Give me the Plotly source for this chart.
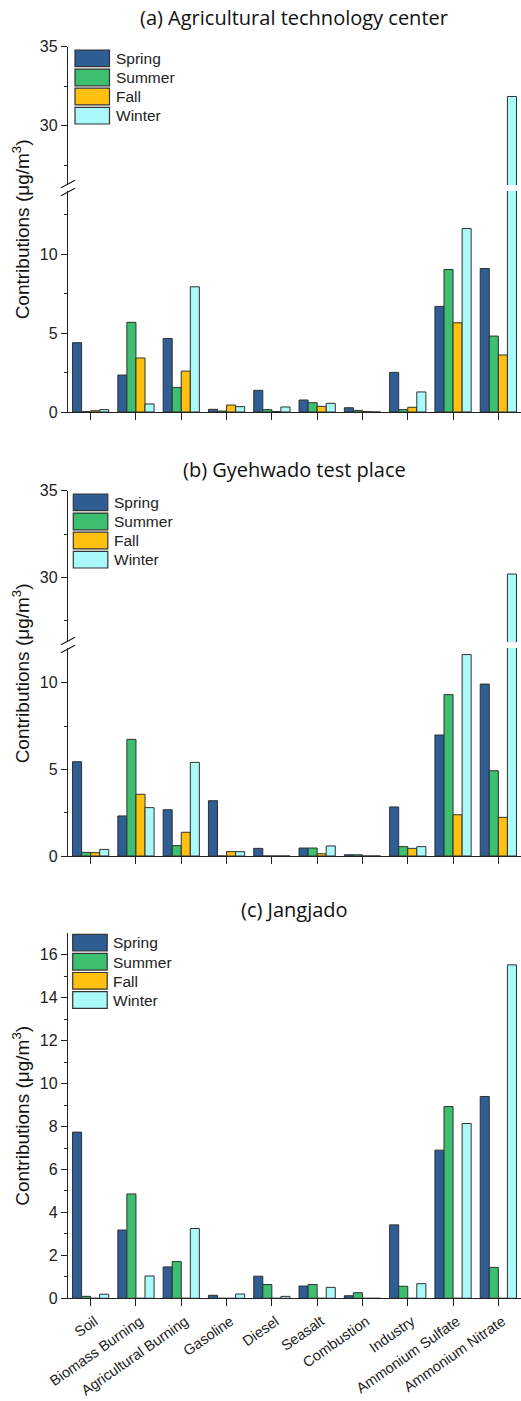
import plotly.graph_objects as go

# ---------------- data ----------------
categories = ["Soil", "Biomass Burning", "Agricultural Burning", "Gasoline", "Diesel",
              "Seasalt", "Combustion", "Industry", "Ammonium Sulfate", "Ammonium Nitrate"]
seasons = ["Spring", "Summer", "Fall", "Winter"]

# (a) Agricultural technology center
a_spring = [4.39, 2.34, 4.66, 0.17, 1.37, 0.76, 0.27, 2.51, 6.69, 9.09]
a_summer = [0.02, 5.68, 1.56, 0.06, 0.15, 0.59, 0.10, 0.15, 9.03, 4.81]
a_fall   = [0.08, 3.42, 2.59, 0.44, 0.03, 0.36, 0.02, 0.30, 5.65, 3.61]
a_winter = [0.15, 0.51, 7.93, 0.34, 0.32, 0.55, 0.00, 1.27, 11.62, 31.85]

# (b) Gyehwado test place
b_spring = [5.44, 2.31, 2.67, 3.19, 0.44, 0.46, 0.07, 2.83, 6.98, 9.92]
b_summer = [0.21, 6.73, 0.60, 0.00, 0.00, 0.46, 0.07, 0.54, 9.31, 4.92]
b_fall   = [0.19, 3.56, 1.37, 0.25, 0.00, 0.13, 0.00, 0.44, 2.38, 2.23]
b_winter = [0.38, 2.79, 5.40, 0.25, 0.00, 0.58, 0.00, 0.54, 11.62, 30.19]

# (c) Jangjado
c_spring = [7.74, 3.18, 1.46, 0.14, 1.03, 0.57, 0.12, 3.42, 6.90, 9.40]
c_summer = [0.09, 4.86, 1.71, 0.00, 0.64, 0.64, 0.26, 0.56, 8.93, 1.44]
c_fall   = [0.00, 0.00, 0.00, 0.00, 0.00, 0.00, 0.00, 0.00, 0.00, 0.00]
c_winter = [0.19, 1.04, 3.25, 0.20, 0.09, 0.51, 0.00, 0.68, 8.14, 15.53]

panel_titles = ["(a) Agricultural technology center", "(b) Gyehwado test place", "(c) Jangjado"]
y_title = "Contributions (μg/m<sup>3</sup>)"

# ---------------- style ----------------
W, H = 521, 1401
colors = {"Spring": "#2e5e93", "Summer": "#3cbf6e", "Fall": "#ffc010", "Winter": "#aafafa"}
edge = "#303030"
axis_col = "#222222"
tick_font = dict(family="Liberation Sans, Arial, sans-serif", size=16, color="#222222")
xlab_font = dict(family="Liberation Sans, Arial, sans-serif", size=14.5, color="#222222")
title_font = dict(family="Open Sans, Noto Sans, sans-serif", size=20, color="#111111")

def px_x(p):
    return p / W

def px_y(p):
    return 1 - p / H

X0 = 68.0  # left of plotting area (px)

# vertical pixel geometry of each (sub)plot: (bottom_px, top_px)
geo = {
    "a_low": (412.0, 191.0), "a_up": (185.0, 46.7),
    "b_low": (856.0, 648.0), "b_up": (642.0, 490.7),
    "c": (1298.3, 933.3),
}

fig = go.Figure()

panel_data = [
    (a_spring, a_summer, a_fall, a_winter),
    (b_spring, b_summer, b_fall, b_winter),
    (c_spring, c_summer, c_fall, c_winter),
]
panel_axes = [("x", ["y", "y2"]), ("x2", ["y3", "y4"]), ("x3", ["y5"])]

for (xa, yas), series in zip(panel_axes, panel_data):
    for ya in yas:
        for name, vals in zip(seasons, series):
            fig.add_trace(go.Bar(
                x=categories, y=vals, name=name, xaxis=xa, yaxis=ya,
                marker=dict(color=colors[name], line=dict(color=edge, width=1)),
                showlegend=False, hoverinfo="x+y+name",
            ))

def yax(dom_key, rng, tickvals, minorvals, anchor):
    b, t = geo[dom_key]
    return dict(
        domain=[px_y(b), px_y(t)], range=rng, anchor=anchor, automargin=False,
        tickmode="array", tickvals=tickvals, ticktext=[str(v) for v in tickvals],
        ticks="outside", ticklen=6, tickwidth=1.3, tickcolor=axis_col,
        showline=True, linecolor=axis_col, linewidth=1.3,
        showgrid=False, zeroline=False, tickfont=tick_font,
        minor=dict(tickmode="array", tickvals=minorvals, ticks="outside",
                   ticklen=3, tickwidth=1.1, tickcolor=axis_col, showgrid=False),
    )

def xax(anchor, show_labels):
    return dict(
        domain=[px_x(X0), 1.0], anchor=anchor, type="category", automargin=False,
        categoryorder="array", categoryarray=categories, range=[-0.5, 9.5],
        ticks="outside", ticklen=7, tickwidth=1.3, tickcolor=axis_col,
        showline=True, linecolor=axis_col, linewidth=1.3, showgrid=False, zeroline=False,
        showticklabels=show_labels, tickangle=-35, tickfont=xlab_font,
        ticklabelstandoff=1, ticklabelshift=4,
    )

def xminor(overlay, anchor):
    return dict(
        overlaying=overlay, anchor=anchor, range=[-0.5, 9.5], type="linear", automargin=False,
        tickmode="array", tickvals=[i - 0.5 for i in range(len(categories) + 1)],
        ticks="outside", ticklen=4, tickwidth=1.1, tickcolor=axis_col,
        showticklabels=False, showline=False, showgrid=False, zeroline=False,
    )

a_low_top = (geo["a_low"][0] - geo["a_low"][1]) / 15.786
a_up_bot = 35 - (geo["a_up"][0] - geo["a_up"][1]) / 15.8
b_up_bot = 35 - (geo["b_up"][0] - geo["b_up"][1]) / 17.33

fig.update_layout(
    template="none",
    width=W, height=H, margin=dict(l=0, r=0, t=0, b=0, pad=0), autosize=False,
    paper_bgcolor="white", plot_bgcolor="white",
    font=dict(family="Liberation Sans, Arial, sans-serif", size=16, color="#222222"),
    barmode="group", bargap=0.2, bargroupgap=0.0,
    showlegend=False,
    xaxis=xax("y", False),
    xaxis2=xax("y3", False),
    xaxis3=xax("y5", True),
    xaxis4=xminor("x", "y"),
    xaxis5=xminor("x2", "y3"),
    xaxis6=xminor("x3", "y5"),
    yaxis=yax("a_low", [0, a_low_top], [0, 5, 10], [2.5, 7.5, 12.5], "x"),
    yaxis2=yax("a_up", [a_up_bot, 35], [30, 35], [27.5, 32.5], "x"),
    yaxis3=yax("b_low", [0, 12], [0, 5, 10], [2.5, 7.5], "x2"),
    yaxis4=yax("b_up", [b_up_bot, 35], [30, 35], [27.5, 32.5], "x2"),
    yaxis5=yax("c", [0, 17], [0, 2, 4, 6, 8, 10, 12, 14, 16], [1, 3, 5, 7, 9, 11, 13, 15], "x3"),
)

shapes = []
annotations = []

# panel titles
for title, ty in zip(panel_titles, [18, 470, 910]):
    annotations.append(dict(text=title, x=px_x(294), y=px_y(ty), xref="paper", yref="paper",
                            xanchor="center", yanchor="middle", showarrow=False, font=title_font))

# y-axis titles (centered on each panel)
for top, bot in [(46.7, 412.0), (490.7, 856.0), (933.3, 1298.3)]:
    annotations.append(dict(text=y_title, x=px_x(21), y=px_y((top + bot) / 2), xref="paper", yref="paper",
                            xanchor="center", yanchor="middle", textangle=-90, showarrow=False,
                            font=dict(family="Liberation Sans, Arial, sans-serif", size=19, color="#111111")))

# legends (box left px, first box top px)
for lx, ly in [(75.0, 50.0), (73.3, 494.0), (72.7, 934.3)]:
    for i, name in enumerate(seasons):
        top = ly + i * 19.1
        shapes.append(dict(type="rect", xref="paper", yref="paper",
                           x0=px_x(lx), x1=px_x(lx + 34.5), y0=px_y(top + 16.7), y1=px_y(top),
                           fillcolor=colors[name], line=dict(color="#333333", width=1.2)))
        annotations.append(dict(text=name, x=px_x(lx + 38.5), y=px_y(top + 8.6), xref="paper", yref="paper",
                                xanchor="left", yanchor="middle", showarrow=False,
                                font=dict(family="Liberation Sans, Arial, sans-serif", size=15.5, color="#222222")))

# axis break marks
for up_bot, low_top in [(geo["a_up"][0], geo["a_low"][1]), (geo["b_up"][0], geo["b_low"][1])]:
    for cy in (up_bot - 1.0, low_top + 1.0):
        shapes.append(dict(type="line", xref="paper", yref="paper",
                           x0=px_x(X0 - 7), y0=px_y(cy + 3.8), x1=px_x(X0 + 7), y1=px_y(cy - 3.8),
                           line=dict(color=axis_col, width=1.3)))

fig.update_layout(shapes=shapes, annotations=annotations)

fig.write_html("out.html")
